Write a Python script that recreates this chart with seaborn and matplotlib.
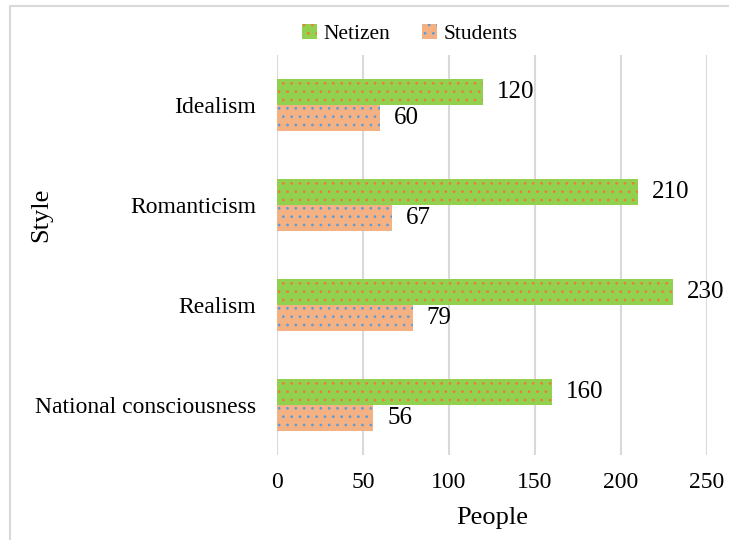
import pandas as pd
import seaborn as sns
import matplotlib.pyplot as plt
import matplotlib.patches as mpatches
from matplotlib.lines import Line2D

styles = ['Idealism', 'Romanticism', 'Realism', 'National consciousness']
netizen = [120, 210, 230, 160]
students = [60, 67, 79, 56]
groups = ['Netizen', 'Students']

df = pd.DataFrame({
    'Style': styles * 2,
    'People': netizen + students,
    'Group': ['Netizen'] * len(styles) + ['Students'] * len(styles),
})

fill = {'Netizen': '#92D050', 'Students': '#F4B183'}
dots = {'Netizen': '#ED7D31', 'Students': '#5B9BD5'}

sns.set_theme(style='white')
plt.rcParams['font.family'] = ['Liberation Serif', 'DejaVu Serif']
plt.rcParams['hatch.linewidth'] = 0.7
for k in ['text.color', 'axes.labelcolor', 'xtick.color', 'ytick.color']:
    plt.rcParams[k] = 'black'

fig = plt.figure(figsize=(7.29, 5.4), dpi=100)
ax = fig.add_axes([277 / 729, 1 - 455 / 540, 430 / 729, 400 / 540])

sns.barplot(data=df, x='People', y='Style', hue='Group', hue_order=groups,
            order=styles, palette=fill, orient='h', width=0.52,
            saturation=1, legend=False, ax=ax)

for g, cont in zip(groups, ax.containers):
    for bar in cont:
        bar.set_hatch('..')
        bar.set_edgecolor(dots[g])
        bar.set_linewidth(0)
    ax.bar_label(cont, padding=10, fontsize=18, color='black')

ax.set_xlim(0, 250)
ax.set_xticks([0, 50, 100, 150, 200, 250])
ax.xaxis.grid(True, color='#d9d9d9', lw=1.5)
ax.set_axisbelow(True)
sns.despine(ax=ax, left=True, bottom=True)
ax.tick_params(axis='x', length=0, pad=12, labelsize=17)
ax.tick_params(axis='y', length=0, pad=15, labelsize=17)

ax.set_xlabel('People', fontsize=19)
ax.set_ylabel('Style', fontsize=19)
ax.xaxis.set_label_coords(0.5, -0.13)
ax.yaxis.set_label_coords(-0.523, 0.6)

handles = [mpatches.Patch(facecolor=fill[g], edgecolor=dots[g], hatch='..',
                          linewidth=0, label=g) for g in groups]
fig.legend(handles=handles, loc='center', bbox_to_anchor=(0.562, 0.937),
           ncol=2, frameon=False, fontsize=15.5, handlelength=0.7,
           handleheight=0.7, handletextpad=0.3, columnspacing=1.5)

# light frame around the chart area
fig.add_artist(Line2D([10 / 729, 1], [1 - 6 / 540, 1 - 6 / 540],
                      transform=fig.transFigure, color='#d9d9d9', lw=1.5))
fig.add_artist(Line2D([10 / 729, 10 / 729], [0, 1 - 6 / 540],
                      transform=fig.transFigure, color='#d9d9d9', lw=1.5))

fig.savefig('out.png', dpi=100)
